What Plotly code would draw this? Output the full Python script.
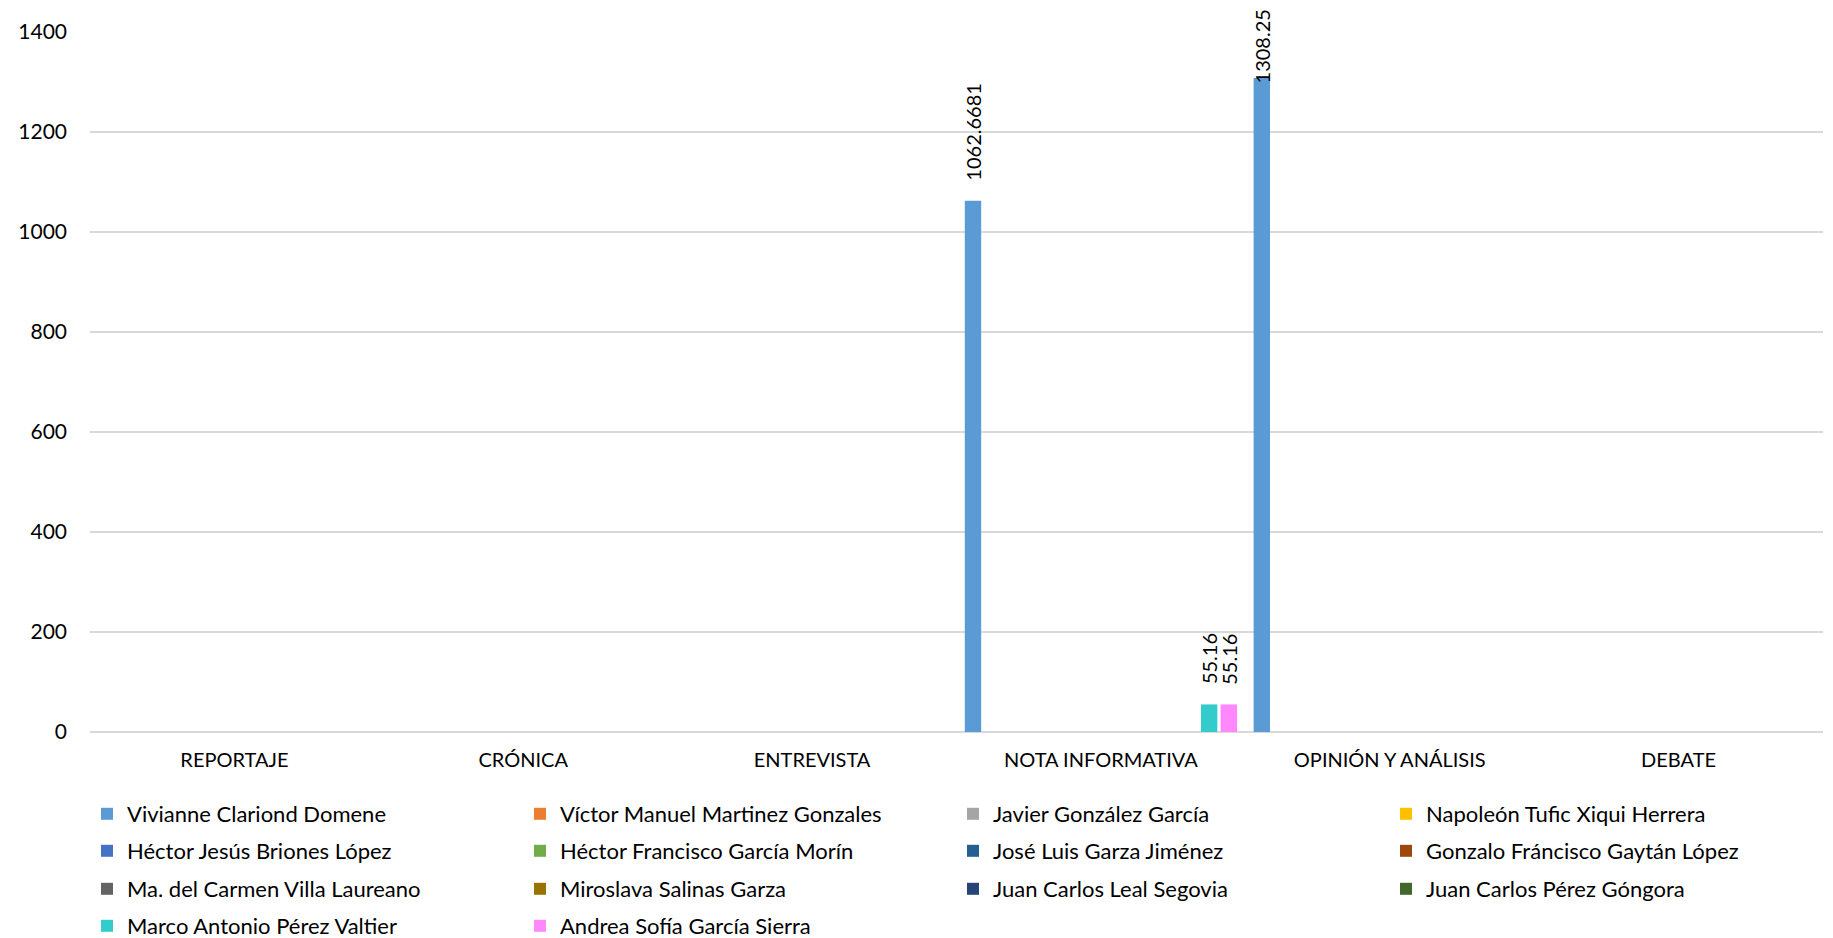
import plotly.graph_objects as go

categories = ["REPORTAJE", "CRÓNICA", "ENTREVISTA", "NOTA INFORMATIVA", "OPINIÓN Y ANÁLISIS", "DEBATE"]

series_names = [
    "Vivianne Clariond Domene",
    "Víctor Manuel Martinez Gonzales",
    "Javier González García",
    "Napoleón Tufic Xiqui Herrera",
    "Héctor Jesús Briones López",
    "Héctor Francisco García Morín",
    "José Luis Garza Jiménez",
    "Gonzalo Fráncisco Gaytán López",
    "Ma. del Carmen Villa Laureano",
    "Miroslava Salinas Garza",
    "Juan Carlos Leal Segovia",
    "Juan Carlos Pérez Góngora",
    "Marco Antonio Pérez Valtier",
    "Andrea Sofía García Sierra",
]

vivianne = [0, 0, 0, 1062.6681, 1308.25, 0]
victor = [0, 0, 0, 0, 0, 0]
javier = [0, 0, 0, 0, 0, 0]
napoleon = [0, 0, 0, 0, 0, 0]
hector_jesus = [0, 0, 0, 0, 0, 0]
hector_francisco = [0, 0, 0, 0, 0, 0]
jose_luis = [0, 0, 0, 0, 0, 0]
gonzalo = [0, 0, 0, 0, 0, 0]
ma_carmen = [0, 0, 0, 0, 0, 0]
miroslava = [0, 0, 0, 0, 0, 0]
jc_leal = [0, 0, 0, 0, 0, 0]
jc_perez = [0, 0, 0, 0, 0, 0]
marco = [0, 0, 0, 55.16, 0, 0]
andrea = [0, 0, 0, 55.16, 0, 0]

series_values = [vivianne, victor, javier, napoleon, hector_jesus, hector_francisco,
                 jose_luis, gonzalo, ma_carmen, miroslava, jc_leal, jc_perez, marco, andrea]

colors = ["#5b9bd5", "#ed7d31", "#a5a5a5", "#ffc000", "#4472c4", "#70ad47",
          "#255e91", "#9e480e", "#636363", "#997300", "#264478", "#43682b",
          "#33cccc", "#ff88ff"]

y_ticks = [0, 200, 400, 600, 800, 1000, 1200, 1400]

FONT = "Lato"
W, H = 1825, 930
ML, MR, MT, MB = 73, 10, 18, 206
BARGAP = 0.046
YMAX = 1400
PER_ROW = 4
ROW_CENTERS = [806, 843, 881, 918]  # legend row centres (px from top)

fig = go.Figure()
for i, (name, vals, col) in enumerate(zip(series_names, series_values, colors)):
    row = i // PER_ROW
    fig.add_trace(go.Bar(
        name=name, x=categories, y=vals,
        marker=dict(color=col, line=dict(width=0)),
        legend="legend" if row == 0 else f"legend{row + 1}",
    ))

# data labels
n = len(series_names)
plot_h = H - MT - MB
for i, vals in enumerate(series_values):
    for j, v in enumerate(vals):
        if v:
            txt = f"{v:.10g}"
            offset = (i - (n - 1) / 2) * (1 - BARGAP) / n
            bar_top = MT + (1 - v / YMAX) * plot_h
            label_len = 10 * len(txt)
            bottom = max(bar_top - 18, 2 + label_len)
            fig.add_annotation(
                x=j + offset, y=v, xref="x", yref="y",
                text=txt, textangle=-90, showarrow=False,
                xanchor="center", yanchor="bottom",
                yshift=bar_top - bottom,
                font=dict(family=FONT, size=20, color="#000000"),
            )

legend_base = dict(
    orientation="h", xref="container", yref="container",
    x=79 / W, xanchor="left", yanchor="middle",
    entrywidth=388, entrywidthmode="pixels",
    font=dict(family=FONT, size=22, color="#000000"),
    traceorder="normal", bgcolor="rgba(0,0,0,0)",
)
legends = {}
for r, yc in enumerate(ROW_CENTERS):
    key = "legend" if r == 0 else f"legend{r + 1}"
    legends[key] = dict(legend_base, y=1 - yc / H)

fig.update_layout(
    width=W, height=H,
    margin=dict(l=ML, r=MR, t=MT, b=MB),
    paper_bgcolor="white", plot_bgcolor="white",
    barmode="group", bargap=BARGAP, bargroupgap=0.167,
    font=dict(family=FONT, size=20, color="#000000"),
    showlegend=True,
    xaxis=dict(
        type="category", showgrid=False, showline=False, zeroline=False,
        ticks="", ticklabelstandoff=14,
        tickfont=dict(family=FONT, size=20, color="#000000"),
    ),
    yaxis=dict(
        range=[0, YMAX], tickvals=y_ticks, ticktext=[str(t) for t in y_ticks],
        showgrid=True, gridcolor="#d9d9d9", gridwidth=1.5,
        zeroline=True, zerolinecolor="#d9d9d9", zerolinewidth=1.5,
        showline=False, ticks="", ticklabelstandoff=22,
        tickfont=dict(family=FONT, size=21, color="#000000"),
    ),
    **legends,
)

fig.write_html("out.html")
